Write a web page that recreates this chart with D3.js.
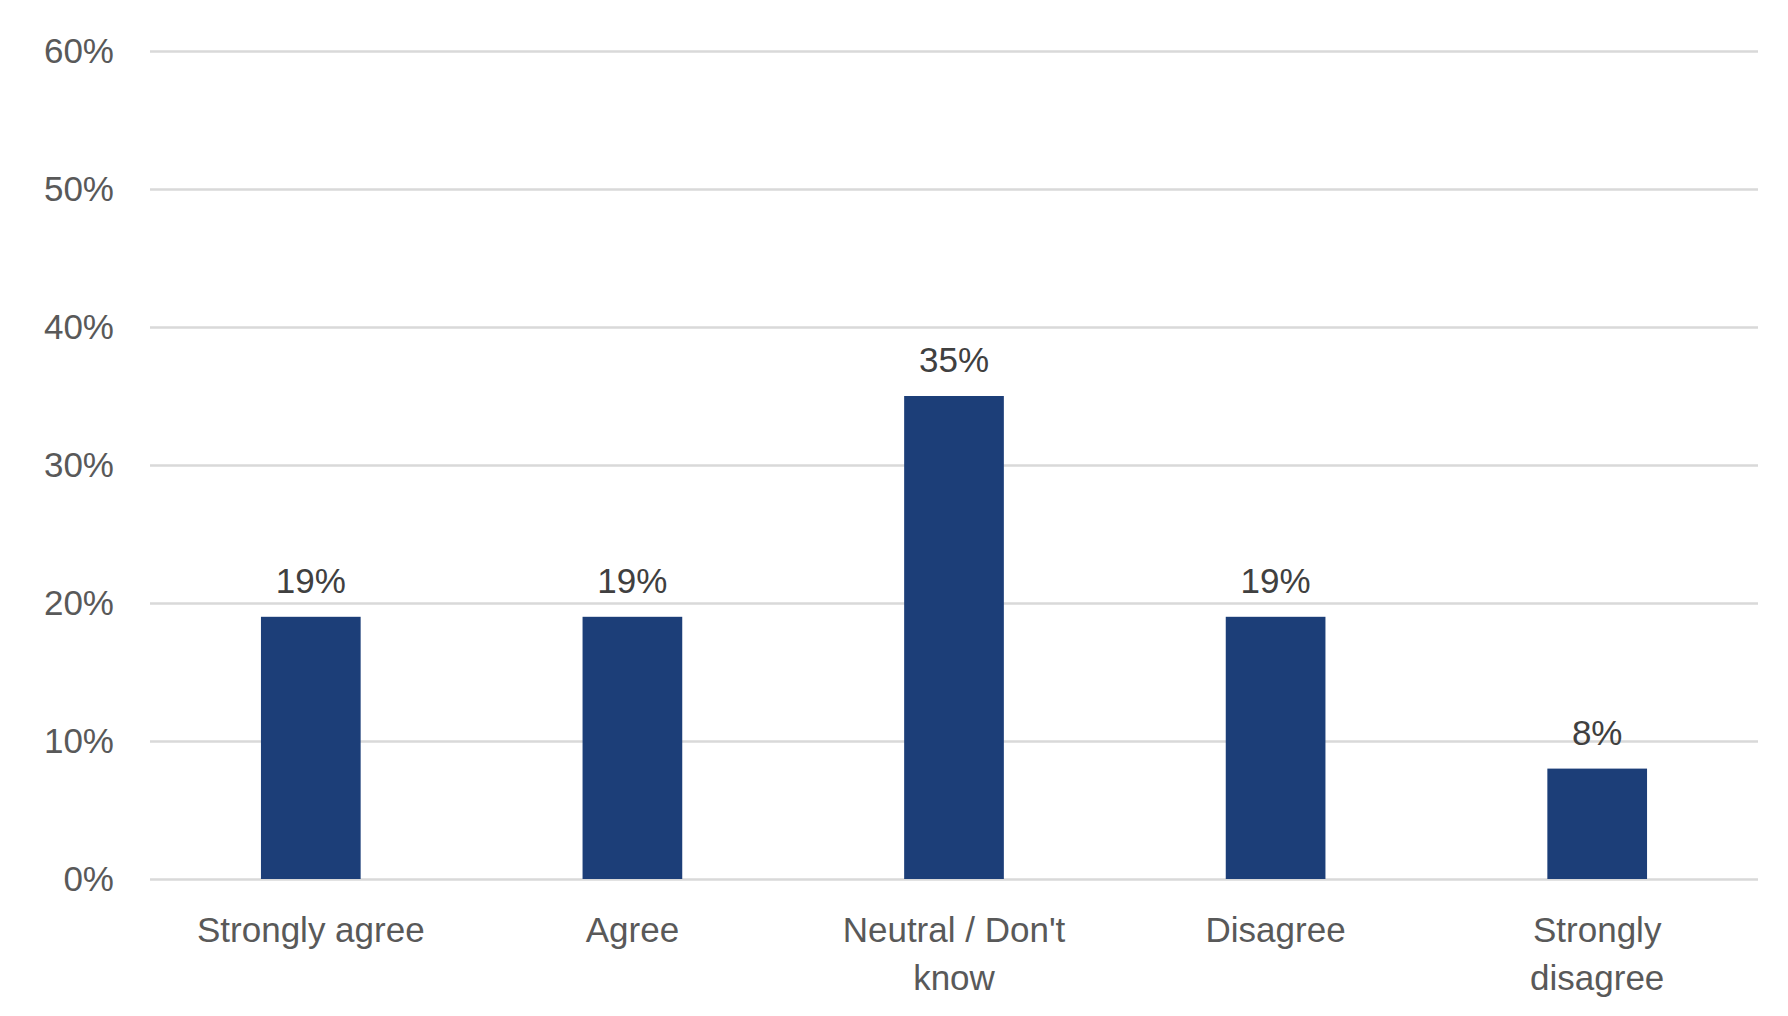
<!DOCTYPE html>
<html><head><meta charset="utf-8">
<script src="https://cdn.jsdelivr.net/npm/d3@7"></script>
<style>body{margin:0;background:#fff}text{font-family:"Liberation Sans",Arial,sans-serif}</style>
</head><body><svg width="1788" height="1016"></svg>
<script>
var categories = ["Strongly agree", "Agree", "Neutral / Don't know", "Disagree", "Strongly disagree"];
var labelLines = [["Strongly agree"], ["Agree"], ["Neutral / Don't", "know"], ["Disagree"], ["Strongly", "disagree"]];
var values = [0.19, 0.19, 0.35, 0.19, 0.08];
var ticks = [0, 0.1, 0.2, 0.3, 0.4, 0.5, 0.6];

var margin = {top: 51, right: 30, bottom: 137, left: 150};
var width = 1788 - margin.left - margin.right;
var height = 1016 - margin.top - margin.bottom;

var svg = d3.select("svg").append("g")
    .attr("transform", "translate(" + margin.left + "," + margin.top + ")");

var x = d3.scaleBand().domain(categories).range([0, width]).paddingInner(0.69).paddingOuter(0.345);
var y = d3.scaleLinear().domain([0, 0.6]).range([height, 0]);

var yAxis = d3.axisLeft(y).tickValues(ticks).tickFormat(d3.format(".0%")).tickSize(-width).tickPadding(36);
var gy = svg.append("g").call(yAxis);
gy.select(".domain").remove();
gy.selectAll("line").attr("stroke", "#d9d9d9").attr("stroke-width", 2.5);
gy.selectAll("text").attr("fill", "#595959").style("font-size", "35px");

svg.selectAll(".bar").data(values).enter().append("rect")
  .attr("fill", "#1c3e78")
  .attr("x", function(d, i) { return x(categories[i]); })
  .attr("width", x.bandwidth())
  .attr("y", function(d) { return y(d); })
  .attr("height", function(d) { return height - y(d); });

svg.selectAll(".val").data(values).enter().append("text")
  .attr("x", function(d, i) { return x(categories[i]) + x.bandwidth() / 2; })
  .attr("y", function(d) { return y(d) - 24; })
  .attr("text-anchor", "middle").attr("fill", "#404040").style("font-size", "35px")
  .text(function(d) { return Math.round(d * 100) + "%"; });

var cl = svg.selectAll(".cat").data(labelLines).enter().append("text")
  .attr("text-anchor", "middle").attr("fill", "#595959").style("font-size", "35px")
  .attr("transform", function(d, i) { return "translate(" + (x(categories[i]) + x.bandwidth() / 2) + "," + (height + 63) + ")"; });
cl.selectAll("tspan").data(function(d) { return d; }).enter().append("tspan")
  .attr("x", 0).attr("dy", function(d, i) { return i ? 48 : 0; })
  .text(function(d) { return d; });
</script></body></html>
